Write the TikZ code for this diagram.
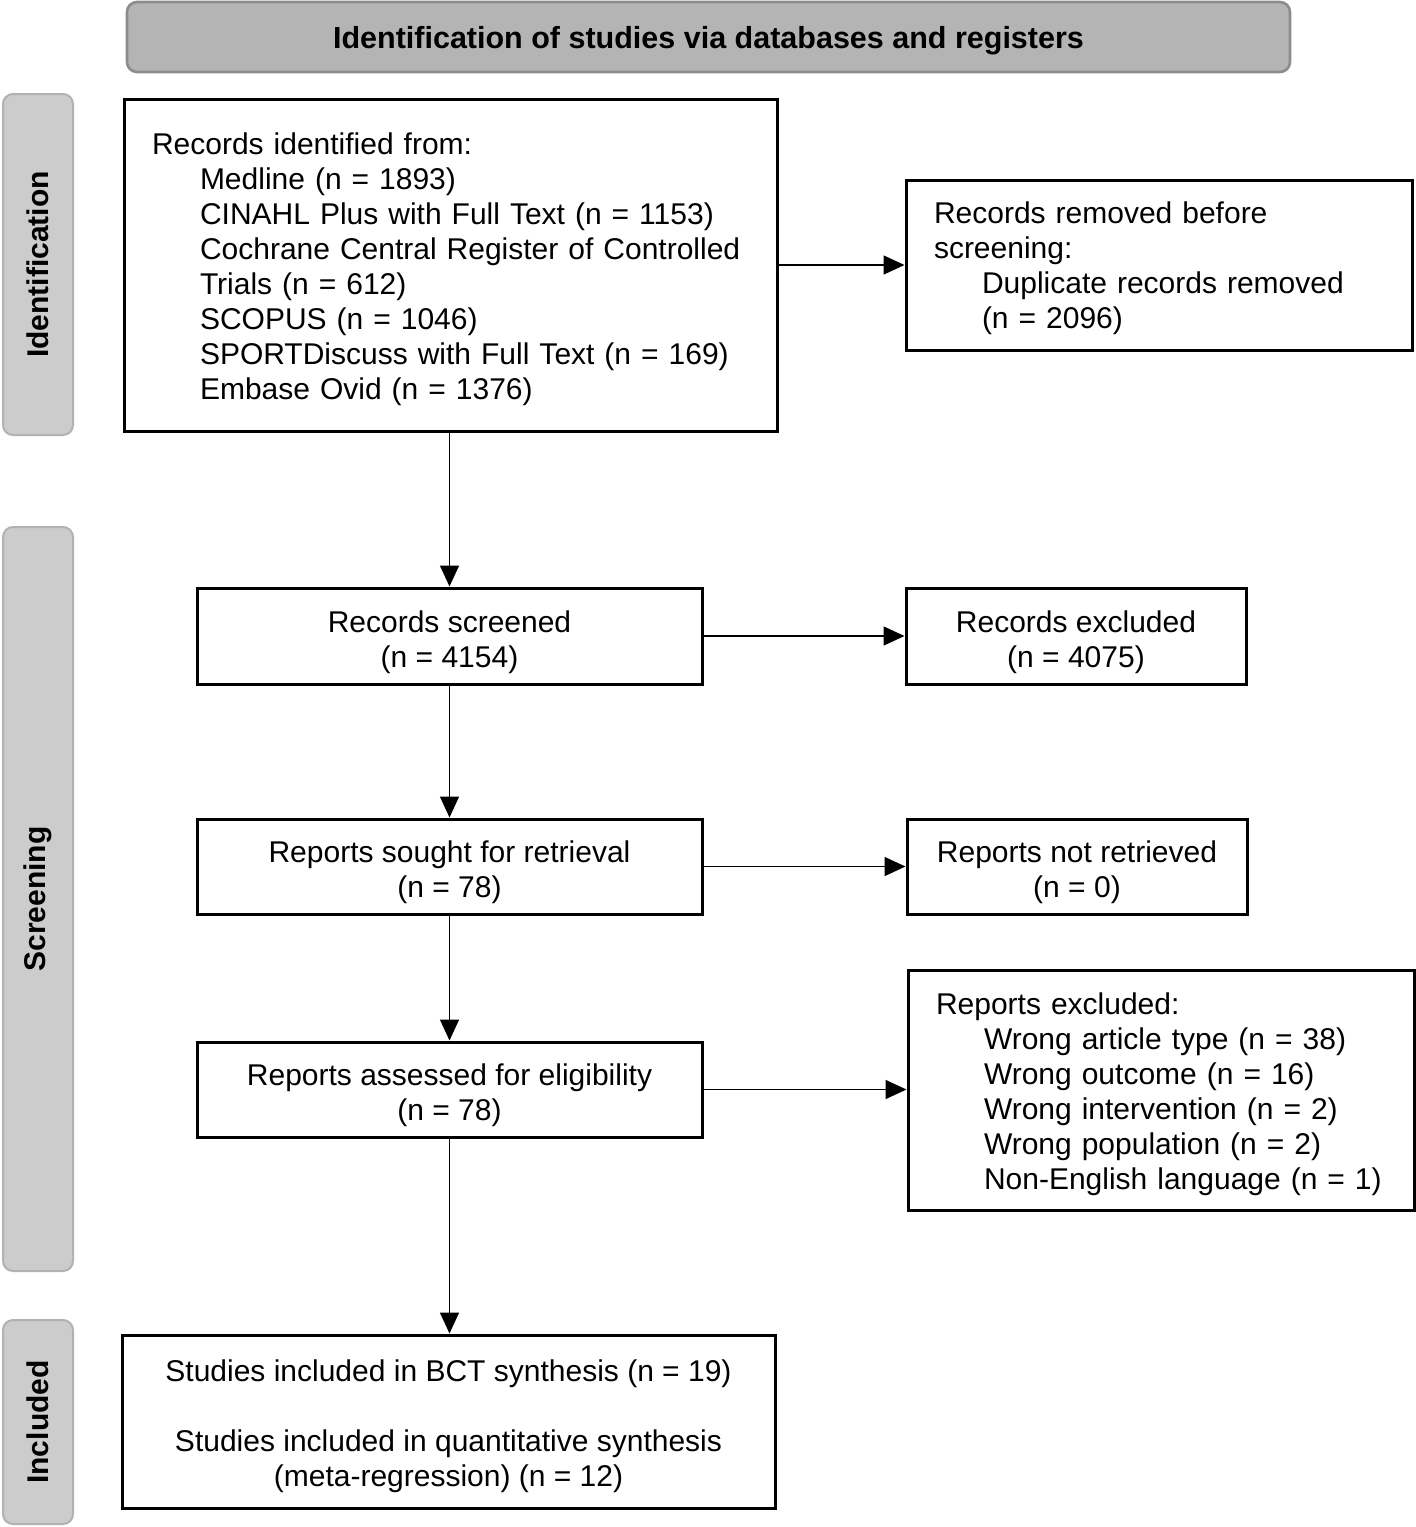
\documentclass[tikz,border=0pt]{standalone}
\usepackage{fontspec}
\setmainfont{Liberation Sans}
\usetikzlibrary{arrows.meta}
\definecolor{hdrfill}{RGB}{180,180,180}
\definecolor{hdrdraw}{RGB}{140,140,140}
\definecolor{sidefill}{RGB}{204,204,204}
\definecolor{sidedraw}{RGB}{178,178,178}
\begin{document}
\begin{tikzpicture}[x=0.5pt,y=-0.5pt,
  txt/.style={font=\fontsize{15}{17.5}\selectfont, inner sep=0pt},
  frame/.style={draw=black, line width=1.5pt, fill=white, inner sep=0pt},
  ctext/.style={txt, align=center, yshift=-3pt},
  ltext/.style={txt, align=left, yshift=-2pt},
  hdr/.style={draw=hdrdraw, fill=hdrfill, line width=1.3pt, rounded corners=5pt, minimum width=581.5pt, minimum height=35pt, inner sep=0pt},
  hdrtext/.style={font=\fontsize{15.25}{17.5}\selectfont\bfseries, inner sep=0pt, yshift=-2pt},
  side/.style={draw=sidedraw, fill=sidefill, line width=1pt, rounded corners=5pt, font=\fontsize{15}{17.5}\selectfont\bfseries, rotate=90, minimum height=35pt, inner sep=0pt},
  arr/.style={line width=0.8pt, -{Triangle[length=10.5pt,width=9.5pt]}}
]
\useasboundingbox (0,0) rectangle (1416,1527);
\fill[white] (0,0) rectangle (1416,1527);

\node[hdr, label={[hdrtext]center:Identification of studies via databases and registers}] (head) at (708.5,37) {};

\node[side, minimum width=170.5pt] (sid) at (38,264.5) {Identification};
\node[side, minimum width=372pt] (sscr) at (38,899) {Screening};
\node[side, minimum width=102pt] (sinc) at (38,1422) {Included};

\node[frame, minimum width=326.5pt, minimum height=166pt,
  label={[ltext, text width=298.5pt]center:{Records identified from:\\
\hspace*{24pt}Medline (n = 1893)\\
\hspace*{24pt}CINAHL Plus with Full Text (n = 1153)\\
\hspace*{24pt}Cochrane Central Register of Controlled\\
\hspace*{24pt}Trials (n = 612)\\
\hspace*{24pt}SCOPUS (n = 1046)\\
\hspace*{24pt}SPORTDiscuss with Full Text (n = 169)\\
\hspace*{24pt}Embase Ovid (n = 1376)}}] (ident) at (450.5,265) {};

\node[frame, minimum width=253pt, minimum height=85pt,
  label={[ltext, text width=225pt, yshift=0.5pt]center:{Records removed before\\
screening:\\
\hspace*{24pt}Duplicate records removed\\
\hspace*{24pt}(n = 2096)}}] (removed) at (1159,265) {};

\node[frame, minimum width=252.5pt, minimum height=48pt,
  label={[ctext]center:{Records screened\\(n = 4154)}}] (screened) at (449.5,636) {};
\node[frame, minimum width=170pt, minimum height=48pt,
  label={[ctext]center:{Records excluded\\(n = 4075)}}] (excl) at (1076,636) {};

\node[frame, minimum width=252.5pt, minimum height=47.5pt,
  label={[ctext]center:{Reports sought for retrieval\\(n = 78)}}] (sought) at (449.5,866.5) {};
\node[frame, minimum width=170pt, minimum height=47.5pt,
  label={[ctext]center:{Reports not retrieved\\(n = 0)}}] (notret) at (1077,866.5) {};

\node[frame, minimum width=252.5pt, minimum height=47.5pt,
  label={[ctext]center:{Reports assessed for eligibility\\(n = 78)}}] (assessed) at (449.5,1089.5) {};
\node[frame, minimum width=253pt, minimum height=120pt,
  label={[ltext, text width=225pt]center:{Reports excluded:\\
\hspace*{24pt}Wrong article type (n = 38)\\
\hspace*{24pt}Wrong outcome (n = 16)\\
\hspace*{24pt}Wrong intervention (n = 2)\\
\hspace*{24pt}Wrong population (n = 2)\\
\hspace*{24pt}Non-English language (n = 1)}}] (repexcl) at (1161,1090) {};

\node[frame, minimum width=326.5pt, minimum height=86.5pt,
  label={[ctext, yshift=0.5pt]center:{Studies included in BCT synthesis (n = 19)\\[17.5pt]
Studies included in quantitative synthesis\\(meta-regression) (n = 12)}}] (incl) at (448.5,1421.5) {};

\draw[arr] (ident.south -| screened.north) -- (screened.north);
\draw[arr] (screened) -- (sought);
\draw[arr] (sought) -- (assessed);
\draw[arr] (assessed.south) -- (assessed.south |- incl.north);
\draw[arr] (ident.east) -- (removed.west);
\draw[arr] (screened) -- (excl);
\draw[arr] (sought) -- (notret);
\draw[arr] (assessed.east) -- (assessed.east -| repexcl.west);
\end{tikzpicture}
\end{document}
